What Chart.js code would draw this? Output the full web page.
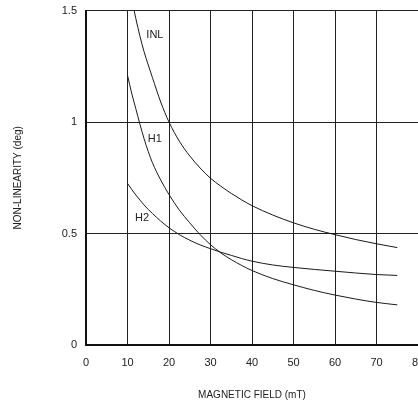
<!DOCTYPE html>
<html>
<head>
<meta charset="utf-8">
<script src="https://cdn.jsdelivr.net/npm/chart.js@4.4.1/dist/chart.umd.min.js"></script>
<style>
    html, body { margin: 0; padding: 0; overflow: hidden; background: #fff; }
    #wrap { width: 440px; height: 410px; margin-top: -5px; }
</style>
</head>
<body>
<div id="wrap"><canvas id="myChart"></canvas></div>
<script>
// readings taken off the three curves
const inlX = [11.6, 12, 13, 14, 15, 16, 18, 20, 22.5, 25, 27.5, 30, 32.5, 35, 37.5, 40, 45, 50, 55, 60, 65, 70, 75]
const inlY = [1.5, 1.465, 1.385, 1.315, 1.256, 1.2, 1.09, 1.0, 0.914, 0.848, 0.794, 0.748, 0.712, 0.68, 0.651, 0.625, 0.583, 0.548, 0.519, 0.495, 0.473, 0.454, 0.437]
const h1X = [10, 11, 12, 13, 14, 15, 16, 18, 20, 22.5, 25, 27.5, 30, 32.5, 35, 37.5, 40, 45, 50, 55, 60, 65, 70, 75]
const h1Y = [1.21, 1.13, 1.06, 0.99, 0.925, 0.868, 0.818, 0.74, 0.675, 0.605, 0.548, 0.495, 0.45, 0.413, 0.383, 0.357, 0.334, 0.298, 0.27, 0.245, 0.224, 0.206, 0.191, 0.18]
const h2X = [10, 11, 12, 13, 14, 15, 16, 18, 20, 22.5, 25, 27.5, 30, 32.5, 35, 37.5, 40, 45, 50, 55, 60, 65, 70, 75]
const h2Y = [0.725, 0.698, 0.673, 0.65, 0.628, 0.608, 0.59, 0.556, 0.526, 0.495, 0.47, 0.449, 0.432, 0.416, 0.402, 0.388, 0.376, 0.359, 0.348, 0.339, 0.331, 0.323, 0.316, 0.312]

const xTicks = [0, 10, 20, 30, 40, 50, 60, 70, 80]
const yTicks = [0, 0.5, 1, 1.5]

// curve names and where they sit
const curveNames = ['INL', 'H1', 'H2']
const nameX = [16.6, 16.6, 13.5]
const nameY = [1.39, 0.924, 0.57]

const toPoints = (xs, ys) => xs.map((x, i) => ({ x: x, y: ys[i] }))

const lineStyle = {
    borderColor: '#1a1a1a',
    borderWidth: 1,
    pointRadius: 0,
    fill: false,
    cubicInterpolationMode: 'monotone'
}

const curveLabels = {
    id: 'curveLabels',
    afterDatasetsDraw(chart) {
        const ctx = chart.ctx
        const xs = chart.scales.x
        const ys = chart.scales.y
        ctx.save()
        ctx.font = '11px "Liberation Sans", Arial, sans-serif'
        ctx.fillStyle = '#222'
        ctx.textAlign = 'center'
        ctx.textBaseline = 'middle'
        curveNames.forEach((n, i) => {
            ctx.fillText(n, xs.getPixelForValue(nameX[i]), ys.getPixelForValue(nameY[i]))
        })
        ctx.restore()
    }
}

const fontFam = '"Liberation Sans", Arial, sans-serif'

const config = {
    type: 'line',
    data: {
        datasets: [
            Object.assign({ label: 'INL', data: toPoints(inlX, inlY) }, lineStyle),
            Object.assign({ label: 'H1', data: toPoints(h1X, h1Y) }, lineStyle),
            Object.assign({ label: 'H2', data: toPoints(h2X, h2Y) }, lineStyle)
        ]
    },
    options: {
        responsive: true,
        maintainAspectRatio: false,
        animation: false,
        layout: { padding: { top: 5, right: 22, left: 0, bottom: 0 } },
        plugins: {
            legend: { display: false },
            tooltip: { enabled: false }
        },
        scales: {
            x: {
                type: 'linear',
                min: 0,
                max: 80,
                afterBuildTicks: (axis) => { axis.ticks = xTicks.map(v => ({ value: v })) },
                afterFit: (axis) => { axis.height = 60 },
                grid: { color: '#222', lineWidth: 1, drawTicks: false },
                border: { color: '#111', width: 2 },
                ticks: {
                    color: '#222',
                    padding: 11,
                    font: { family: fontFam, size: 11 }
                },
                title: {
                    display: true,
                    text: 'MAGNETIC FIELD (mT)',
                    color: '#222',
                    padding: { top: 4, bottom: 4 },
                    font: { family: fontFam, size: 10 }
                }
            },
            y: {
                min: 0,
                max: 1.5,
                afterBuildTicks: (axis) => { axis.ticks = yTicks.map(v => ({ value: v })) },
                afterFit: (axis) => { axis.width = 86 },
                grid: { color: '#222', lineWidth: 1, drawTicks: false },
                border: { color: '#111', width: 2 },
                ticks: {
                    color: '#222',
                    padding: 9,
                    font: { family: fontFam, size: 11 },
                    callback: (v) => String(v)
                },
                title: {
                    display: true,
                    text: 'NON-LINEARITY (deg)',
                    color: '#222',
                    padding: { top: 12, bottom: 4 },
                    font: { family: fontFam, size: 10 }
                }
            }
        }
    },
    plugins: [curveLabels]
}

const myChart = new Chart(document.getElementById('myChart'), config)
</script>
</body>
</html>
